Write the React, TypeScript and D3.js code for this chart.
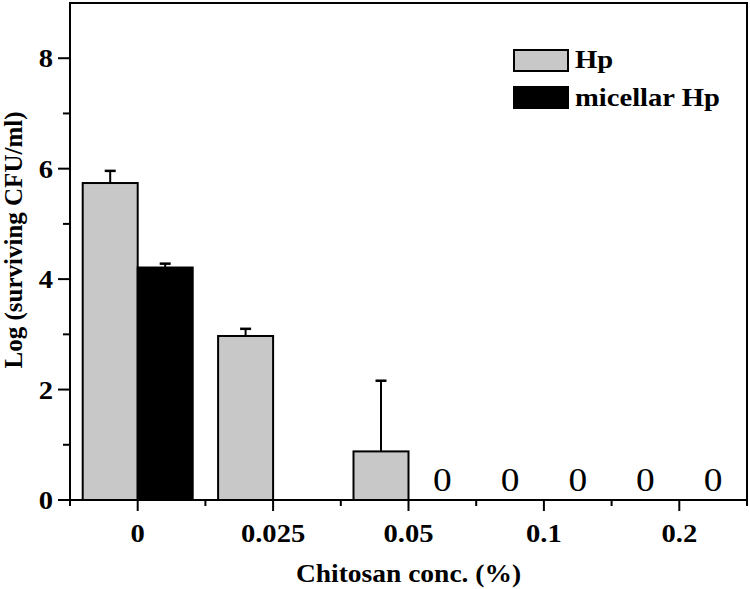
import React from 'react';
import * as d3 from 'd3';

const categories = ['0', '0.025', '0.05', '0.1', '0.2'];
const seriesNames = ['Hp', 'micellar Hp'];
const hpValues = [5.74, 2.97, 0.88, 0, 0];
const hpErrors = [0.22, 0.13, 1.28, 0, 0];
// no micellar measurement at 0.025
const micellarValues = [4.21, null, 0, 0, 0];
const micellarErrors = [0.07, null, 0, 0, 0];
const yTicks = [0, 2, 4, 6, 8];
const yMinorTicks = [1, 3, 5, 7];

const W = 750;
const H = 589;
const FONT = '"Liberation Serif", "Times New Roman", serif';
const STRETCH = 1.1;

const App = () => {
  const margin = { top: 3, right: 3, bottom: 89, left: 70 };
  const x0 = margin.left;
  const x1 = W - margin.right;
  const y0 = H - margin.bottom;

  const x = d3.scaleBand<string>().domain(categories).range([x0, x1]).padding(0);
  const y = d3.scaleLinear().domain([0, 9]).range([y0, margin.top]);
  const barW = 55;
  const sub = d3.scaleBand<string>().domain(seriesNames).range([-barW, barW]).padding(0);
  const colors = ['#c8c8c8', '#000000'];

  const series = [
    { name: seriesNames[0], values: hpValues, errors: hpErrors, color: colors[0] },
    { name: seriesNames[1], values: micellarValues, errors: micellarErrors, color: colors[1] },
  ];

  const center = (c: string) => (x(c) as number) + x.bandwidth() / 2;

  const hText = (tx: number, ty: number, str: string, size: number, anchor: string, weight = 'bold', key?: any) => (
    <g key={key} transform={`translate(${tx},${ty}) scale(${STRETCH},1)`}>
      <text fontFamily={FONT} fontSize={size} fontWeight={weight} textAnchor={anchor} fill="#000">
        {str}
      </text>
    </g>
  );

  return (
    <div style={{ position: 'absolute', left: 0, top: 0 }}>
      <svg width={W} height={H} style={{ display: 'block', background: '#fff' }}>
        {/* bars */}
        {series.map((s, si) =>
          categories.map((c, i) => {
            const v = s.values[i];
            if (v === null || v === 0) return null;
            const bx = center(c) + (sub(s.name) as number);
            const by = y(v);
            const ex = bx + sub.bandwidth() / 2;
            const ey = y(v + (s.errors[i] as number));
            return (
              <g key={`${si}-${i}`}>
                <line x1={ex} x2={ex} y1={by} y2={ey} stroke="#000" strokeWidth={2} />
                <line x1={ex - 5.5} x2={ex + 5.5} y1={ey} y2={ey} stroke="#000" strokeWidth={2.5} />
                <rect x={bx} y={by} width={sub.bandwidth()} height={y0 - by} fill={s.color} stroke="#000" strokeWidth={2} />
              </g>
            );
          })
        )}

        {/* zero value labels */}
        {series.map((s, si) =>
          categories.map((c, i) =>
            s.values[i] === 0
              ? hText(center(c) + (si === 0 ? -1 : 1) * x.bandwidth() / 4, 491, '0', 34, 'middle', 'normal', `z${si}-${i}`)
              : null
          )
        )}

        {/* frame */}
        <rect x={x0} y={margin.top} width={x1 - x0} height={y0 - margin.top} fill="none" stroke="#000" strokeWidth={2} />

        {/* y ticks */}
        {yTicks.map(t => (
          <g key={`yt${t}`}>
            <line x1={x0 - 12} x2={x0} y1={y(t)} y2={y(t)} stroke="#000" strokeWidth={2} />
            {hText(53, y(t) + 9, String(t), 26, 'end', 'bold')}
          </g>
        ))}
        {yMinorTicks.map(t => (
          <line key={`ym${t}`} x1={x0 - 7} x2={x0} y1={y(t)} y2={y(t)} stroke="#000" strokeWidth={2} />
        ))}

        {/* x ticks */}
        {categories.map(c => (
          <g key={`xt${c}`}>
            <line x1={center(c)} x2={center(c)} y1={y0} y2={y0 + 11} stroke="#000" strokeWidth={2} />
            {hText(center(c), 542, c, 26, 'middle', 'bold')}
          </g>
        ))}
        {[...categories.map(c => x(c) as number), x1].map((p, i) => (
          <line key={`xm${i}`} x1={p} x2={p} y1={y0} y2={y0 + 6} stroke="#000" strokeWidth={2} />
        ))}

        {/* axis titles */}
        {hText((x0 + x1) / 2, 582, 'Chitosan conc. (%)', 25, 'middle', 'bold')}
        <text
          transform={`translate(22,${240}) rotate(-90)`}
          fontFamily={FONT}
          fontSize={25}
          fontWeight="bold"
          textAnchor="middle"
          fill="#000"
        >
          Log (surviving CFU/ml)
        </text>

        {/* legend */}
        {series.map((s, si) => (
          <g key={`lg${si}`}>
            <rect x={514} y={50 + si * 37} width={54} height={21} fill={s.color} stroke="#000" strokeWidth={2} />
            {hText(575, 68 + si * 38, s.name, 26, 'start', 'bold')}
          </g>
        ))}
      </svg>
    </div>
  );
};

export default App;
